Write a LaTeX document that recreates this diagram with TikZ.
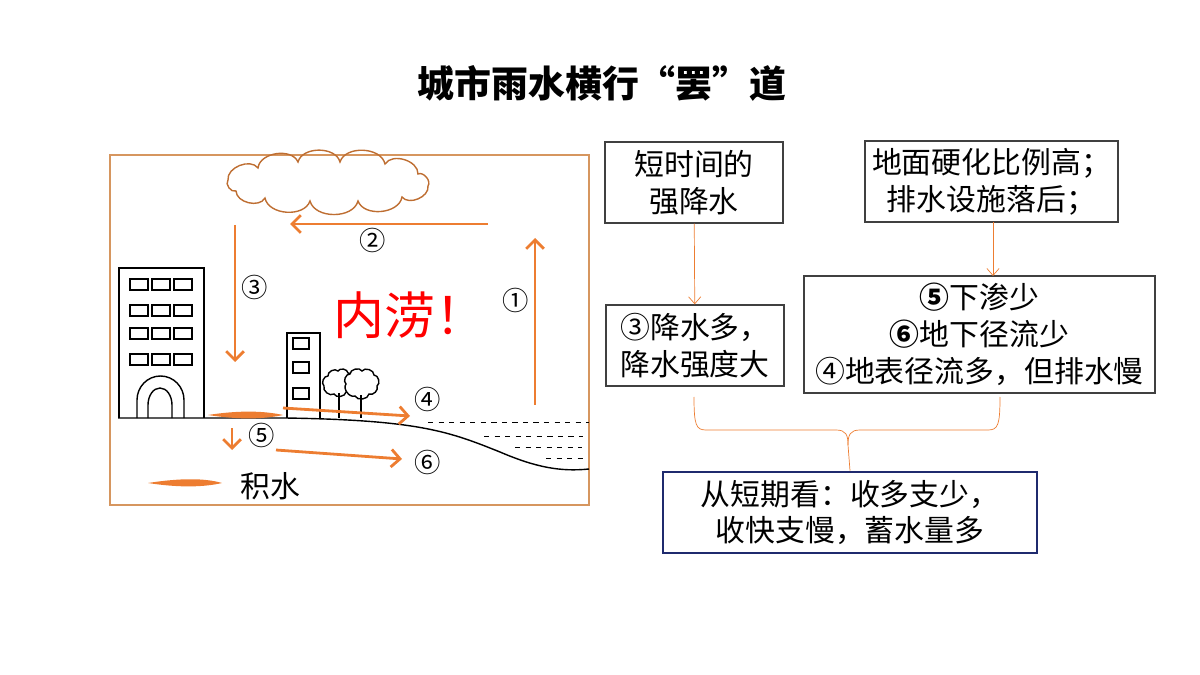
\documentclass[tikz,border=0pt]{standalone}
\usepackage{fontspec}
\setmainfont{Noto Sans CJK SC}
\usetikzlibrary{arrows.meta, positioning}
\definecolor{flow}{RGB}{237, 125, 49}
\definecolor{frame}{RGB}{214, 150, 95}
\definecolor{cloudline}{RGB}{190, 110, 50}
\definecolor{navy}{RGB}{31, 42, 110}
\tikzstyle{box} = [rectangle, draw=black!75, thick, align=center, font=\fontsize{17}{21}\selectfont, inner sep=2pt]
\tikzstyle{arrow} = [line width=1.6pt, draw=flow, -{Straight Barb[length=5pt, width=10pt]}]
\tikzstyle{link} = [draw=flow, -{Straight Barb[length=4pt, width=7pt]}]
\tikzstyle{num} = [font=\fontsize{15}{17}\selectfont]
\tikzstyle{win} = [draw, thick]
\tikzstyle{puff} = [bend left=75]

\begin{document}
\begin{tikzpicture}[x=0.02cm, y=-0.02cm]
    \useasboundingbox (0,0) rectangle (1200,675);

    % Title
    \node[font=\fontsize{21}{24}\selectfont\bfseries] (title) at (602,83) {城市雨水横行“罢”道};

    % Left picture
    \node[draw=frame, thick, minimum width=9.58cm, minimum height=7cm] (frame) at (349.5,330) {};
    \draw[cloudline, thick] (228,180) to[puff] (258,168) to[puff] (298,162) to[puff] (340,162)
        to[puff] (385,164) to[puff] (418,174) to[puff] (428,186) to[puff] (402,197)
        to[puff] (358,201) to[puff] (310,201) to[puff] (265,198) to[puff] (236,191) to[puff] cycle;

    % Buildings
    \draw[thick] (119,418) -- (119,268) -- (204,268) -- (204,418);
    \foreach \y in {279,305,328,354}
        \foreach \x in {130,152,174}
            \draw[win] (\x,\y) rectangle ++(18,11);
    \draw[thick] (137,418) -- (137,400) arc (180:360:23.5 and 24) -- (184,418);
    \draw[thick] (148,418) -- (148,405) arc (180:360:12 and 17) -- (172,418);
    \draw[thick] (287,418) -- (287,333) -- (320,333) -- (320,418);
    \foreach \y in {338,362,388}
        \draw[win] (293,\y) rectangle ++(16,11);

    % Trees
    \draw[thick, fill=white] (324,386) to[puff] (328,376) to[puff] (338,371) to[puff] (348,373)
        to[puff] (353,383) to[puff] (346,392) to[puff] (334,394) to[puff] cycle;
    \draw[thick, fill=white] (346,384) to[puff] (350,374) to[puff] (362,371) to[puff] (374,375)
        to[puff] (377,386) to[puff] (369,394) to[puff] (355,396) to[puff] cycle;
    \draw[very thick] (339,393) -- (339,418);
    \draw[very thick] (361,395) -- (361,418);

    % Ground and water
    \draw[thick] (118,418) -- (285,418) .. controls (420,420) and (450,432) .. (500,452) .. controls (535,467) and (560,472) .. (589,469);
    \draw[dashed] (428,422) -- (589,422);
    \draw[dashed] (484,436) -- (583,436);
    \draw[dashed] (515,447) -- (582,447);
    \draw[dashed] (546,458) -- (583,458);
    \fill[flow] (208,415) .. controls (240,410) and (265,411) .. (283,415) .. controls (265,419) and (240,420) .. (208,415);
    \fill[flow] (148,483) .. controls (180,478) and (205,478) .. (222,483) .. controls (205,487) and (180,488) .. (148,483);
    \node[font=\fontsize{17}{19}\selectfont] (legend) at (270,486) {积水};

    % Flow arrows
    \coordinate (p1a) at (535,405); \coordinate (p1b) at (535,238);
    \coordinate (p2a) at (488,224); \coordinate (p2b) at (290,224);
    \coordinate (p3a) at (235,225); \coordinate (p3b) at (235,362);
    \coordinate (p4a) at (283,408); \coordinate (p4b) at (410,416);
    \coordinate (p5a) at (232,428); \coordinate (p5b) at (232,450);
    \coordinate (p6a) at (276,450); \coordinate (p6b) at (402,459);
    \draw[arrow] (p1a) -- (p1b);
    \draw[arrow] (p2a) -- (p2b);
    \draw[arrow] (p3a) -- (p3b);
    \draw[arrow] (p4a) -- (p4b);
    \draw[arrow] (p5a) -- (p5b);
    \draw[arrow] (p6a) -- (p6b);
    \node[num] (n1) at (516,300) {①};
    \node[num] (n2) at (373,240) {②};
    \node[num] (n3) at (255,287) {③};
    \node[num] (n4) at (428,399) {④};
    \node[num] (n5) at (262,435) {⑤};
    \node[num] (n6) at (428,462) {⑥};
    \node[text=red, font=\fontsize{29}{32}\selectfont] (flood) at (410,315) {内涝！};

    % Right chart
    \node[box, minimum width=3.56cm, minimum height=1.62cm] (rain) at (694,182.5) {短时间的\\强降水};
    \node[box, minimum width=5.06cm, minimum height=1.62cm] (ground) at (991.5,181.5) {地面硬化比例高；\\排水设施落后；};
    \node[box, minimum width=3.56cm, minimum height=1.62cm] (more) at (695,345.5) {③降水多，\\降水强度大};
    \node[box, minimum width=7.02cm, minimum height=2.34cm] (runoff) at (979.5,334.5) {\textbf{⑤}下渗少\\\textbf{⑥}地下径流少\\④地表径流多，但排水慢};
    \node[box, draw=navy, line width=1.5pt, minimum width=7.48cm, minimum height=1.62cm] (result) at (850,512.5) {从短期看：收多支少，\\收快支慢，蓄水量多};

    \draw[link] (rain) -- (more);
    \coordinate (gb) at (993,222);
    \coordinate (rt) at (993,276);
    \draw[link] (gb) -- (rt);
    \draw[draw=flow] (694,397) .. controls (694,425) and (696,430) .. (706,430) -- (836,430) .. controls (846,430) and (848,435) .. (848,445) -- (result.north);
    \draw[draw=flow] (1000,397) .. controls (1000,425) and (998,430) .. (988,430) -- (860,430) .. controls (850,430) and (848,435) .. (848,445);
\end{tikzpicture}
\end{document}
